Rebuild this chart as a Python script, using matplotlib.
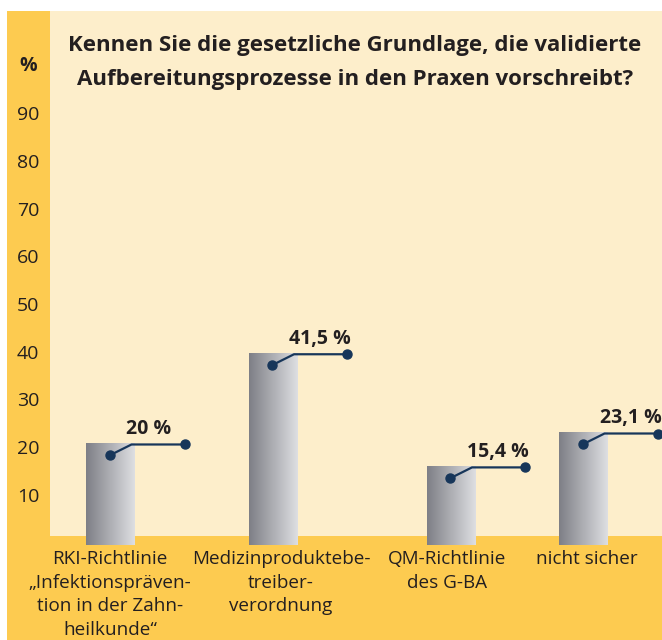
import numpy as np
import matplotlib.pyplot as plt
from matplotlib.patches import Rectangle
from matplotlib.colors import LinearSegmentedColormap

# values as drawn (bar heights) and the printed labels
categories = ['RKI-Richtlinie\n\u201eInfektionspr\u00e4ven-\ntion in der Zahn-\nheilkunde\u201c',
              'Medizinproduktebe-\ntreiber-\nverordnung',
              'QM-Richtlinie\ndes G-BA',
              'nicht sicher']
bar_heights = [21.3, 40.2, 16.5, 23.6]
value_labels = ['20 %', '41,5 %', '15,4 %', '23,1 %']
yticks = [10, 20, 30, 40, 50, 60, 70, 80, 90]

title = 'Kennen Sie die gesetzliche Grundlage, die validierte\nAufbereitungsprozesse in den Praxen vorschreibt?'

orange = '#fdcb50'
light = '#fdeecb'
navy = '#17365a'
txt = '#231f20'

plt.rcParams['font.family'] = ['Open Sans', 'DejaVu Sans']

W, H = 662, 640
fig = plt.figure(figsize=(W / 100, H / 100), dpi=100)
fig.patch.set_facecolor('white')

# orange frame (left column + bottom band)
fig.patches.append(Rectangle((7 / W, 0), 1 - 7 / W, 1 - 11 / H, transform=fig.transFigure,
                             facecolor=orange, edgecolor='none', zorder=-1))

ax = fig.add_axes([50 / W, (H - 536) / H, (W - 50) / W, (536 - 11) / H])
ax.set_zorder(1)
ax.set_facecolor(light)
for s in ax.spines.values():
    s.set_visible(False)
ax.set_xticks([])
ax.set_yticks([])

# bar centres in pixels from the left edge of the plot area
xpos = [60.5, 223, 401, 533.5]
width = 49
y0, y1 = 1.83, 111.8

grad = np.linspace(0, 1, 256).reshape(1, -1)
cmap = LinearSegmentedColormap.from_list('g', ['#7e7f86', '#dedfe2'])

bars = ax.bar(xpos, bar_heights, width=width, color='none', edgecolor='none')
for b, x, h, lab in zip(bars, xpos, bar_heights, value_labels):
    im = ax.imshow(grad, cmap=cmap, aspect='auto', extent=[x - width / 2, x + width / 2, 0, h], zorder=2)
    im.set_clip_path(b)
    # leader line
    dot = (x - 1, h - 2.6)
    elbow = (x + 21, h - 0.3)
    end = (x + 74, h - 0.3)
    ax.plot([dot[0], elbow[0], end[0]], [dot[1], elbow[1], end[1]], color=navy, lw=1.6, zorder=3)
    ax.plot([dot[0], end[0]], [dot[1], end[1]], 'o', color=navy, ms=6.5, zorder=4)
    ax.text(x + 16, h + 0.8, lab, ha='left', va='bottom', fontsize=14, fontweight='bold', color=txt)

ax.set_xlim(0, W - 50)
ax.set_ylim(y0, y1)

fig.text(355 / W, 1 - 62.5 / H, title, ha='center', va='center', fontsize=16, fontweight='bold',
         color=txt, linespacing=1.8)

# y tick labels in the orange column
px_per_unit = (497 - 115) / 80
for t in yticks:
    ypix = 497 - (t - 10) * px_per_unit
    fig.text(28 / W, 1 - ypix / H, str(t), ha='center', va='center', fontsize=14, color=txt)
fig.text(28 / W, 1 - 66 / H, '%', ha='center', va='center', fontsize=14, fontweight='bold', color=txt)

# category labels in the bottom band
label_x = [110, 281, 447, 587]
for lx, c in zip(label_x, categories):
    fig.text(lx / W, 1 - 550 / H, c, ha='center', va='top', fontsize=13.6, color=txt, linespacing=1.41)

fig.savefig('out.png', dpi=100)
